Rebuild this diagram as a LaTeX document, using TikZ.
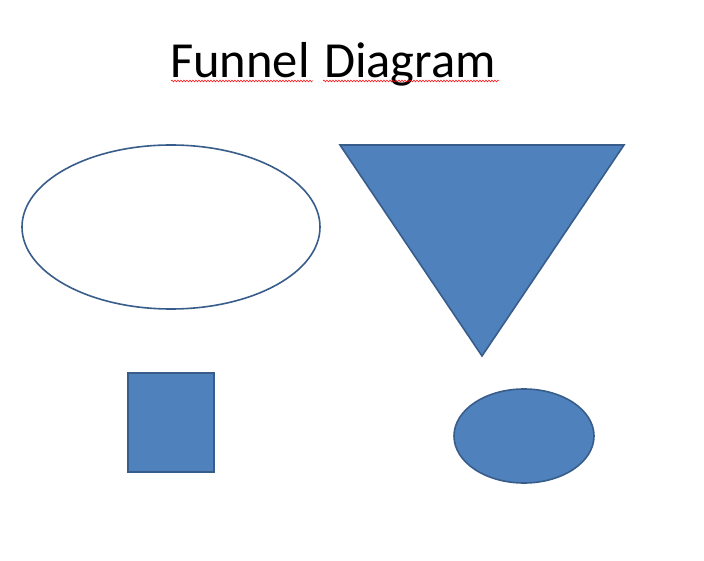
\documentclass[tikz,border=0pt]{standalone}
\usepackage{fontspec}
\setmainfont{Carlito}
\usetikzlibrary{decorations.pathmorphing}
\definecolor{shapefill}{HTML}{4F81BD}
\definecolor{shapeline}{HTML}{385D8A}
\tikzset{
  shapestyle/.style={draw=shapeline, line width=1.6pt},
  filledshape/.style={shapestyle, fill=shapefill},
  squiggle/.style={draw=red, line width=0.5pt, decorate, decoration={snake, amplitude=0.9pt, segment length=3pt}}
}
\begin{document}
\begin{tikzpicture}[x=1pt,y=-1pt]
\useasboundingbox (0,0) rectangle (704,561);
\node[anchor=base west, inner sep=0pt, font=\fontsize{50.5}{60}\selectfont] (title) at (170,78) {Funnel\hspace{3pt} Diagram};
\coordinate (s1a) at (171,81); \coordinate (s1b) at (313,81);
\coordinate (s2a) at (323,81); \coordinate (s2b) at (499,81);
\draw[squiggle] (s1a) -- (s1b);
\draw[squiggle] (s2a) -- (s2b);
\draw[shapestyle, fill=white] (171,227) ellipse [x radius=149, y radius=82];
\draw[filledshape] (340,145) -- (624,145) -- (482,356) -- cycle;
\draw[filledshape] (128,373) rectangle (214,472);
\draw[filledshape] (524,436) ellipse [x radius=70, y radius=47];
\end{tikzpicture}
\end{document}
